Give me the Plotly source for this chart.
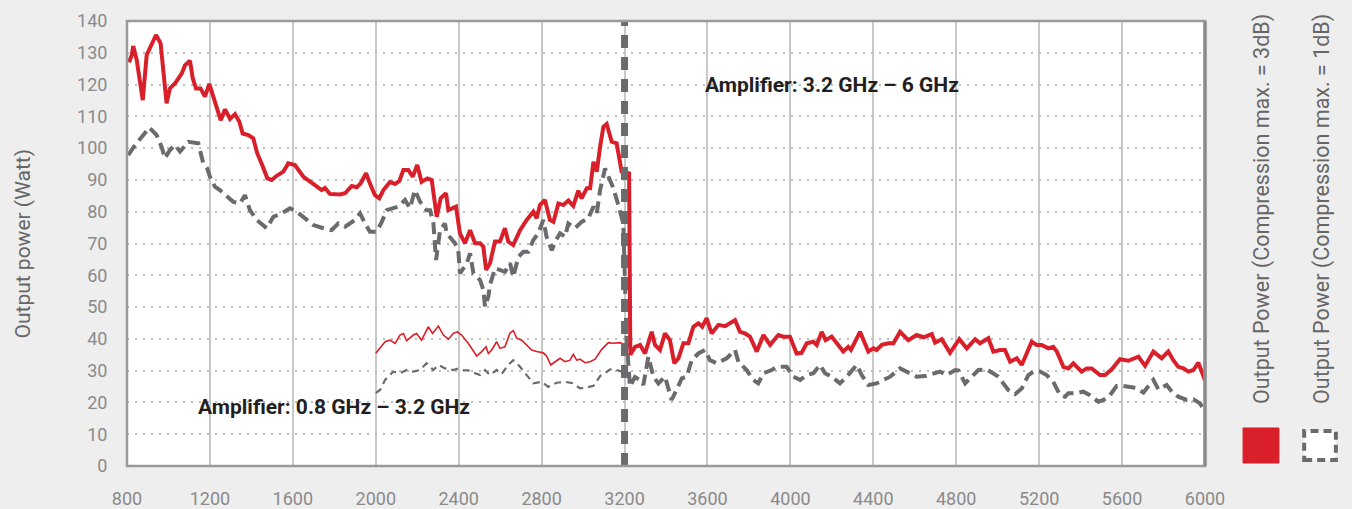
import plotly.graph_objects as go

# ---------------- data ----------------
freq_3db = [810, 823, 830, 847, 876, 895, 940, 962, 991, 1007, 1032, 1064, 1080, 1104, 1117, 1133, 1155, 1176, 1197,
            1216, 1232, 1252, 1273, 1297, 1321, 1342, 1358, 1385, 1409, 1428, 1455, 1477, 1498, 1522, 1554, 1578,
            1610, 1651, 1680, 1715, 1739, 1755, 1779, 1828, 1852, 1884, 1908, 1927, 1953, 1972, 1996, 2017, 2037,
            2069, 2093, 2114, 2133, 2157, 2178, 2200, 2221, 2249, 2270, 2294, 2313, 2339, 2350, 2387, 2406, 2430,
            2455, 2479, 2503, 2519, 2532, 2551, 2575, 2599, 2623, 2639, 2663, 2696, 2728, 2760, 2776, 2792, 2816,
            2840, 2857, 2881, 2905, 2929, 2953, 2977, 2993, 3018, 3034, 3050, 3066, 3082, 3098, 3114, 3138, 3162,
            3186, 3222, 3228, 3251, 3275, 3299, 3331, 3347, 3371, 3395, 3419, 3440, 3460, 3484, 3508, 3532, 3556,
            3575, 3596, 3620, 3636, 3653, 3685, 3717, 3733, 3757, 3781, 3805, 3838, 3870, 3902, 3942, 3966, 3998,
            4030, 4054, 4079, 4111, 4127, 4151, 4170, 4199, 4231, 4255, 4279, 4292, 4336, 4376, 4400, 4416, 4441,
            4473, 4497, 4529, 4569, 4609, 4642, 4682, 4698, 4730, 4770, 4815, 4851, 4891, 4915, 4955, 4979, 5011,
            5035, 5060, 5092, 5116, 5164, 5188, 5212, 5244, 5268, 5285, 5317, 5341, 5365, 5405, 5429, 5453, 5494,
            5518, 5550, 5590, 5630, 5679, 5711, 5751, 5791, 5823, 5847, 5871, 5896, 5920, 5944, 5968, 5984, 6000]
power_3db = [127.0, 129.3, 132.1, 127.7, 115.1, 129.3, 135.6, 133.0, 114.1, 118.8, 120.4, 123.5, 126.1, 127.5, 122.0,
             118.8, 118.8, 116.2, 120.2, 116.2, 112.0, 108.8, 112.2, 109.2, 110.7, 108.3, 104.6, 104.1, 103.1, 98.4,
             94.2, 90.5, 90.0, 91.3, 92.6, 95.2, 94.7, 91.0, 89.6, 87.9, 86.8, 87.5, 85.6, 85.4, 85.8, 88.1, 87.7,
             88.9, 92.1, 88.9, 85.2, 84.2, 86.8, 89.4, 88.7, 89.7, 93.1, 93.1, 91.0, 94.7, 89.4, 90.5, 90.0, 78.4,
             84.2, 85.8, 80.5, 81.6, 73.2, 70.1, 74.2, 70.1, 70.1, 69.0, 61.7, 63.8, 70.6, 70.6, 74.8, 70.6, 69.5,
             74.2, 77.4, 80.0, 77.9, 82.1, 83.7, 77.4, 76.8, 82.6, 82.1, 83.5, 81.8, 86.6, 84.2, 87.4, 87.4, 95.7,
             92.6, 100.4, 106.7, 107.6, 102.0, 101.5, 92.6, 92.1, 35.0, 37.5, 38.1, 35.4, 42.2, 38.1, 36.5, 41.7,
             39.6, 32.3, 33.9, 38.6, 38.6, 43.8, 44.9, 43.8, 46.5, 41.7, 42.8, 44.4, 44.0, 45.4, 45.9, 42.2, 41.7,
             40.7, 36.0, 41.2, 38.1, 41.2, 40.7, 40.7, 35.4, 35.6, 38.6, 39.1, 38.1, 42.2, 39.6, 40.7, 38.1, 36.0,
             37.5, 36.5, 42.2, 36.0, 37.0, 36.5, 38.1, 38.6, 38.6, 42.2, 39.6, 41.2, 40.5, 41.5, 38.8, 39.9, 35.6,
             39.9, 37.0, 39.9, 38.6, 40.2, 36.0, 36.5, 36.5, 32.8, 33.9, 31.8, 39.1, 38.1, 38.1, 37.0, 37.5, 36.0,
             31.2, 30.7, 32.3, 29.7, 30.7, 30.7, 28.6, 28.6, 30.4, 33.6, 33.1, 34.4, 31.5, 36.0, 33.9, 36.0, 33.3,
             31.2, 30.7, 29.7, 30.2, 32.5, 29.7, 27.0]

freq_1db = [806, 839, 879, 908, 943, 967, 983, 1007, 1032, 1056, 1096, 1144, 1168, 1187, 1200, 1224, 1248, 1281,
            1313, 1345, 1369, 1393, 1426, 1474, 1506, 1546, 1586, 1619, 1651, 1699, 1747, 1787, 1819, 1852, 1900,
            1924, 1948, 1972, 2004, 2029, 2053, 2085, 2109, 2141, 2165, 2189, 2213, 2245, 2262, 2278, 2291, 2310,
            2334, 2342, 2382, 2398, 2406, 2439, 2455, 2471, 2503, 2519, 2527, 2543, 2551, 2575, 2599, 2623, 2648,
            2663, 2688, 2712, 2736, 2760, 2784, 2808, 2824, 2849, 2865, 2889, 2913, 2929, 2961, 2993, 3025, 3050,
            3066, 3082, 3106, 3122, 3146, 3170, 3194, 3210, 3226, 3250, 3275, 3291, 3315, 3339, 3363, 3395, 3411,
            3427, 3451, 3476, 3500, 3524, 3556, 3588, 3612, 3645, 3693, 3733, 3749, 3789, 3821, 3845, 3870, 3910,
            3934, 3982, 4014, 4047, 4079, 4111, 4143, 4167, 4199, 4239, 4272, 4320, 4344, 4376, 4416, 4449, 4481,
            4529, 4561, 4609, 4650, 4690, 4722, 4754, 4795, 4811, 4843, 4875, 4907, 4947, 4979, 5003, 5027, 5051,
            5084, 5116, 5148, 5172, 5204, 5236, 5268, 5301, 5325, 5341, 5381, 5413, 5445, 5486, 5510, 5542, 5574,
            5606, 5647, 5671, 5703, 5727, 5751, 5775, 5815, 5840, 5871, 5912, 5944, 5976, 6000]
power_1db = [97.8, 101.0, 104.1, 106.5, 104.1, 100.4, 96.8, 99.4, 101.0, 98.9, 102.0, 101.5, 95.2, 93.6, 91.0, 87.9,
             86.8, 84.7, 83.1, 82.6, 85.2, 80.5, 77.4, 74.8, 78.4, 79.5, 81.1, 80.0, 78.2, 75.8, 74.8, 74.2, 76.3,
             75.3, 77.4, 79.5, 76.3, 73.7, 73.7, 76.8, 80.5, 81.1, 81.6, 83.7, 81.1, 86.8, 83.2, 80.5, 80.5, 76.3,
             64.8, 74.2, 76.3, 73.2, 70.1, 68.0, 60.6, 63.8, 66.9, 60.6, 58.5, 55.4, 50.1, 53.3, 56.9, 62.2, 61.7,
             61.1, 63.8, 59.5, 65.8, 67.4, 67.4, 71.1, 73.2, 77.4, 72.1, 67.9, 70.6, 73.2, 72.1, 76.3, 74.8, 76.8,
             77.9, 81.6, 79.5, 86.8, 93.6, 91.0, 87.4, 82.1, 76.3, 40.0, 25.0, 28.0, 27.1, 25.5, 34.4, 28.1, 26.0,
             28.1, 24.9, 20.8, 23.9, 27.6, 28.1, 33.3, 35.4, 36.5, 33.3, 32.3, 33.9, 36.5, 32.8, 30.2, 27.1, 26.0,
             29.2, 30.2, 31.2, 31.2, 28.1, 27.1, 28.6, 29.2, 31.8, 29.2, 28.1, 26.0, 28.1, 31.8, 28.6, 25.5, 26.0,
             27.1, 28.1, 30.7, 29.7, 28.1, 28.3, 29.2, 29.7, 28.6, 30.2, 30.0, 26.0, 28.1, 30.2, 30.4, 29.2, 28.1,
             26.0, 23.9, 22.6, 24.4, 28.6, 29.7, 29.7, 28.6, 26.5, 22.3, 21.8, 22.9, 22.9, 23.4, 22.3, 20.2, 20.8,
             22.3, 25.2, 25.2, 24.8, 24.4, 23.1, 24.9, 27.1, 24.1, 25.5, 23.4, 21.8, 20.8, 21.0, 19.7, 17.1]

# 3.2-6 GHz amplifier below its band (thin lines)
freq_hi_3db = [2000, 2045, 2069, 2093, 2117, 2133, 2149, 2181, 2197, 2221, 2253, 2274, 2302, 2326, 2350, 2374, 2393,
               2414, 2446, 2487, 2511, 2532, 2543, 2559, 2583, 2599, 2623, 2648, 2664, 2680, 2704, 2728, 2752, 2776,
               2808, 2824, 2844, 2865, 2889, 2913, 2937, 2953, 2969, 2985, 3009, 3034, 3058, 3090, 3122, 3146, 3179,
               3203, 3211]
power_hi_3db = [35.5, 39.1, 39.6, 38.6, 41.2, 41.7, 39.4, 41.2, 41.7, 39.6, 43.8, 41.7, 44.0, 41.2, 39.9, 41.7, 42.2,
                41.2, 38.6, 34.6, 36.0, 37.5, 35.4, 36.5, 39.1, 37.0, 37.5, 41.9, 42.6, 40.2, 39.6, 38.1, 36.5, 36.0,
                35.6, 34.6, 31.8, 32.8, 33.9, 32.8, 33.3, 35.1, 33.3, 33.6, 32.5, 32.8, 33.6, 36.7, 38.8, 38.6, 38.8,
                38.1, 37.0]
freq_hi_1db = [2000, 2021, 2045, 2085, 2117, 2149, 2181, 2213, 2245, 2278, 2302, 2334, 2374, 2398, 2422, 2455, 2479,
               2503, 2527, 2551, 2583, 2607, 2639, 2663, 2680, 2696, 2728, 2760, 2800, 2832, 2873, 2913, 2953, 2985,
               3018, 3050, 3082, 3106, 3130, 3162, 3186]
power_hi_1db = [23.0, 23.9, 27.1, 29.7, 29.2, 30.2, 29.7, 30.2, 32.3, 30.2, 31.8, 30.7, 30.2, 30.7, 30.2, 30.0, 29.2,
                28.6, 30.2, 28.6, 30.2, 28.9, 31.8, 33.3, 32.3, 31.2, 28.6, 26.0, 26.5, 24.9, 26.2, 26.5, 26.0, 24.4,
                24.7, 25.2, 28.3, 29.2, 30.4, 30.2, 29.7]

x_ticks = [800, 1200, 1600, 2000, 2400, 2800, 3200, 3600, 4000, 4400, 4800, 5200, 5600, 6000]
y_ticks = list(range(0, 150, 10))
band_split = 3200

legend_labels = ["Output Power (Compression max. = 3dB)", "Output Power (Compression max. = 1dB)"]

RED = "#d9202a"
GREY = "#6a6b6e"
FONT = "Roboto, Liberation Sans, sans-serif"

fig = go.Figure()

fig.add_trace(go.Scatter(x=freq_hi_1db, y=power_hi_1db, mode="lines",
                         line=dict(color=GREY, width=2.2, dash="7px,5px"), hoverinfo="skip"))
fig.add_trace(go.Scatter(x=freq_hi_3db, y=power_hi_3db, mode="lines",
                         line=dict(color=RED, width=1.6), hoverinfo="skip"))
fig.add_trace(go.Scatter(x=freq_1db, y=power_1db, mode="lines", name=legend_labels[1],
                         line=dict(color=GREY, width=4, dash="12px,6px")))
fig.add_trace(go.Scatter(x=freq_3db, y=power_3db, mode="lines", name=legend_labels[0],
                         line=dict(color=RED, width=4)))

# band separator
fig.add_shape(type="line", xref="x", yref="paper", x0=band_split, x1=band_split, y0=0, y1=1,
              line=dict(color=GREY, width=7, dash="13px,9px"), layer="above")
# frame
fig.add_shape(type="rect", xref="paper", yref="paper", x0=0, x1=1, y0=0, y1=1,
              line=dict(color="#9a9a9a", width=2.5), layer="above")
fig.add_shape(type="line", xref="paper", yref="paper", x0=1, x1=1, y0=0, y1=1,
              line=dict(color="#8c8c8c", width=3.5), layer="above")

fig.add_annotation(x=4201, y=120, xref="x", yref="y", text="Amplifier: 3.2 GHz – 6 GHz", showarrow=False,
                   xanchor="center", yanchor="middle",
                   font=dict(family=FONT, size=21, color="#231f20", weight="bold"))
fig.add_annotation(x=1799, y=18.6, xref="x", yref="y", text="Amplifier: 0.8 GHz – 3.2 GHz", showarrow=False,
                   xanchor="center", yanchor="middle",
                   font=dict(family=FONT, size=21, color="#231f20", weight="bold"))

# y axis title
fig.add_annotation(x=-0.0974, y=0.5, xref="paper", yref="paper", text="Output power (Watt)", showarrow=False,
                   xanchor="center", yanchor="middle",
                   textangle=-90, font=dict(family=FONT, size=21, color="#666666"))

# custom vertical legend
fig.add_annotation(x=1.0529, y=0.5775, xref="paper", yref="paper", text=legend_labels[0], showarrow=False,
                   xanchor="center", yanchor="middle",
                   textangle=-90, font=dict(family=FONT, size=21.5, color="#666666"))
fig.add_annotation(x=1.1085, y=0.5775, xref="paper", yref="paper", text=legend_labels[1], showarrow=False,
                   xanchor="center", yanchor="middle",
                   textangle=-90, font=dict(family=FONT, size=21.5, color="#666666"))
fig.add_shape(type="rect", xref="paper", yref="paper", x0=1.0353, x1=1.0686, y0=0.0067, y1=0.0854,
              fillcolor=RED, line=dict(color=RED, width=1))
fig.add_shape(type="rect", xref="paper", yref="paper", x0=1.0920, x1=1.1214, y0=0.0135, y1=0.0786,
              fillcolor="white", line=dict(color=GREY, width=4, dash="8px,5px"))

fig.update_layout(
    width=1352, height=509,
    margin=dict(l=127, r=147, t=21, b=43),
    paper_bgcolor="#eeeeee", plot_bgcolor="white",
    showlegend=False,
    font=dict(family=FONT, color="#8a8a8a", size=18),
)
fig.update_xaxes(range=[800, 6000], tickvals=x_ticks, ticks="outside", ticklen=16, automargin=False,
                 tickcolor="rgba(0,0,0,0)", showgrid=True, gridcolor="#c8c8c8", gridwidth=1.5,
                 zeroline=False, showline=False, tickfont=dict(size=18, color="#8a8a8a"))
fig.update_yaxes(range=[0, 140], tickvals=y_ticks, ticks="outside", ticklen=15, automargin=False,
                 tickcolor="rgba(0,0,0,0)", showgrid=True, gridcolor="#bdbdbd", gridwidth=2,
                 griddash="2px,6px", zeroline=False, showline=False, tickfont=dict(size=18, color="#8a8a8a"))

fig.write_html("out.html", config={"displayModeBar": False},
               post_script="document.body.style.margin='0px';document.body.style.overflow='hidden';")
